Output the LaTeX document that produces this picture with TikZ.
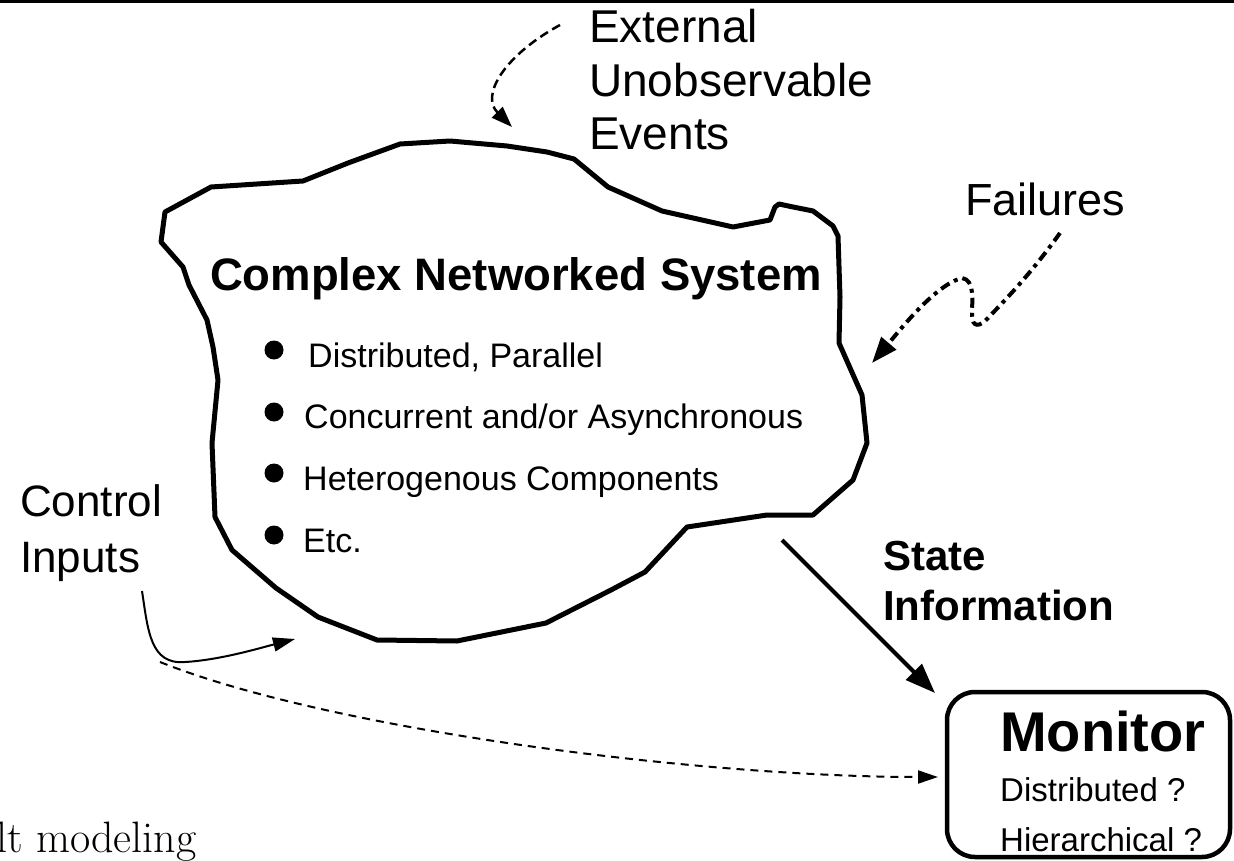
\documentclass[tikz,border=0pt]{standalone}
\usepackage{fontspec}
\newfontfamily\arial{Liberation Sans}
\usetikzlibrary{arrows.meta}
\tikzset{
  lbl/.style={anchor=base west, inner sep=0pt, font=\arial\fontsize{46}{52}\selectfont},
  smalllbl/.style={anchor=base west, inner sep=0pt, font=\arial\fontsize{34}{40}\selectfont},
  boldlbl/.style={anchor=base west, inner sep=0pt, font=\arial\bfseries\fontsize{42}{48}\selectfont},
  blobline/.style={line width=5pt, line join=round},
  bulletdot/.style={fill=black},
}
\begin{document}
\begin{tikzpicture}[x=1pt,y=-1pt]
\useasboundingbox (0,0) rectangle (1234,861);
% top rule
\draw[line width=3.5pt] (0,1.5) -- (1234,1.5);
% cloud-like system outline
\draw[blobline] (165,212) -- (211,187) -- (303,181) -- (348,163) -- (400,144) -- (450,141)
  -- (507,146) -- (547,152) -- (574,159) -- (608,187) -- (662,211) -- (733,227)
  -- (770,220) -- (775,207) -- (779,204) -- (793,207) -- (813,211) -- (833,226)
  -- (838,236) -- (840,297) -- (839,343) -- (862,395) -- (867,443) -- (853,480)
  -- (813,515) -- (767,515) -- (687,527) -- (645,572) -- (611,590) -- (546,623)
  -- (457,641) -- (377,640) -- (318,617) -- (276,588) -- (232,550) -- (215,517)
  -- (212,443) -- (218,380) -- (213,347) -- (207,320) -- (189,285) -- (183,267)
  -- (161,242) -- cycle;
% title and bullets
\node[anchor=base, inner sep=0pt, font=\arial\bfseries\fontsize{45.5}{50}\selectfont] (title) at (516,290) {Complex Networked System};
\fill[bulletdot] (274,350) circle (9.5pt);
\fill[bulletdot] (274,412) circle (9.5pt);
\fill[bulletdot] (274,473) circle (9.5pt);
\fill[bulletdot] (274,535) circle (9.5pt);
\node[smalllbl] (b1) at (308,367) {Distributed, Parallel};
\node[smalllbl] (b2) at (304,428) {Concurrent and/or Asynchronous};
\node[smalllbl] (b3) at (303,490) {Heterogenous Components};
\node[smalllbl] (b4) at (303,552) {Etc.};
% external events
\node[lbl] (ext1) at (589,43) {External};
\node[lbl] (ext2) at (589,97) {Unobservable};
\node[lbl] (ext3) at (589,150) {Events};
\coordinate (extstart) at (560,25);
\coordinate (exttip) at (512,127);
\draw[line width=2.5pt, dash pattern=on 9pt off 5pt, -{Triangle[length=21pt,width=15pt]}]
  (extstart) .. controls (505,55) and (480,95) .. (exttip);
% failures
\node[lbl, font=\arial\fontsize{45}{50}\selectfont] (fail) at (965,216) {Failures};
\coordinate (failstart) at (1060,233);
\coordinate (failtip) at (872,363);
\draw[line width=4pt, dash pattern=on 10pt off 5pt on 4pt off 5pt, -{Triangle[length=26pt,width=19pt]}]
  (failstart) .. controls (1030,275) and (1005,300) .. (988,318)
  .. controls (980,327) and (972,328) .. (972,315)
  .. controls (972,300) and (975,280) .. (962,278)
  .. controls (935,285) and (900,330) .. (failtip);
% control inputs
\node[lbl, font=\arial\fontsize{44}{50}\selectfont] (ctl1) at (20,516) {Control};
\node[lbl, font=\arial\fontsize{44}{50}\selectfont] (ctl2) at (20,572) {Inputs};
\coordinate (ctlstart) at (142,591);
\coordinate (ctlbend) at (185,662);
\coordinate (ctltip) at (295,639);
\draw[line width=2pt, -{Triangle[length=22pt,width=14pt]}]
  (ctlstart) .. controls (148,630) and (150,665) .. (ctlbend)
  .. controls (220,660) and (260,648) .. (ctltip);
% state information
\node[boldlbl] (st1) at (883,570) {State};
\node[boldlbl] (st2) at (883,620) {Information};
\coordinate (ststart) at (782,540);
\coordinate (sttip) at (935,693);
\draw[line width=4pt, -{Triangle[length=30pt,width=22pt]}] (ststart) -- (sttip);
% monitor
\draw[line width=4.5pt, rounded corners=28pt] (947,692) rectangle (1230,857);
\node[anchor=base west, inner sep=0pt, font=\arial\bfseries\fontsize{56}{60}\selectfont] (mon) at (1000,751) {Monitor};
\node[smalllbl, font=\arial\fontsize{33}{38}\selectfont] (mon1) at (1000,801) {Distributed ?};
\node[smalllbl, font=\arial\fontsize{33}{38}\selectfont] (mon2) at (1000,851) {Hierarchical ?};
\coordinate (dstart) at (160,662);
\coordinate (dtip) at (938,777);
\draw[line width=2pt, dash pattern=on 8pt off 6pt, -{Triangle[length=20pt,width=13pt]}]
  (dstart) .. controls (330,730) and (700,777) .. (dtip);
% cut-off caption
\node[anchor=base west, inner sep=0pt, font=\fontsize{44}{50}\selectfont] (cap) at (-4,852) {lt modeling};
\end{tikzpicture}
\end{document}
